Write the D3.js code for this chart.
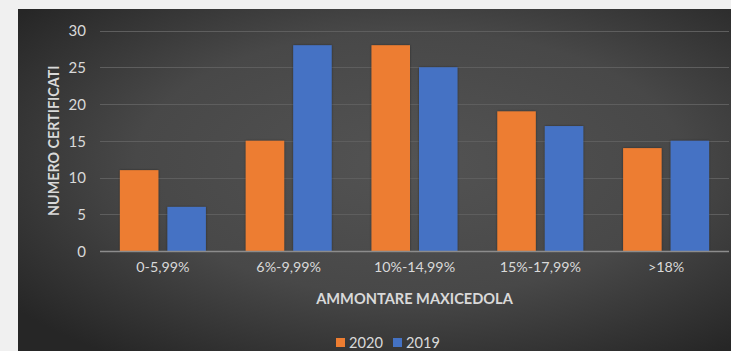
<!DOCTYPE html>
<html>
<head>
<meta charset="utf-8">
<script src="https://cdn.jsdelivr.net/npm/d3@7/dist/d3.min.js"></script>
<style>
  html, body { margin: 0; padding: 0; background: #f0f0f0; }
  svg { display: block; }
  text { font-family: Lato, "Open Sans", sans-serif; }
</style>
</head>
<body>
<svg id="chart" width="731" height="351"></svg>
<script>
// Certificates by maxicedola amount range, 2020 vs 2019
const categories = ["0-5,99%", "6%-9,99%", "10%-14,99%", "15%-17,99%", ">18%"];
const seriesNames = ["2020", "2019"];
const values2020 = [11, 15, 28, 19, 14];
const values2019 = [6, 28, 25, 17, 15];
const yTicks = [0, 5, 10, 15, 20, 25, 30];
const colors = ["#ED7D31", "#4472C4"];

const svg = d3.select("#chart");
const W = 731, H = 351;

// Dark radial backdrop
const defs = svg.append("defs");
const grad = defs.append("radialGradient").attr("id", "bg")
  .attr("cx", "55%").attr("cy", "45%").attr("r", "70%");
grad.append("stop").attr("offset", "0%").attr("stop-color", "#535353");
grad.append("stop").attr("offset", "55%").attr("stop-color", "#484848");
grad.append("stop").attr("offset", "100%").attr("stop-color", "#262626");

const shadow = defs.append("filter").attr("id", "sh")
  .attr("x", "-20%").attr("y", "-20%").attr("width", "140%").attr("height", "140%");
shadow.append("feDropShadow").attr("dx", 0).attr("dy", 0)
  .attr("stdDeviation", 1.2).attr("flood-color", "#000").attr("flood-opacity", 0.45);

svg.append("rect").attr("x", 18).attr("y", 9).attr("width", W - 18).attr("height", H - 9)
  .attr("fill", "url(#bg)");

const plot = { left: 100, right: 729, top: 30.5, bottom: 251 };

const x0 = d3.scaleBand().domain(categories).range([plot.left, plot.right]);
const y = d3.scaleLinear().domain([0, 30]).range([plot.bottom, plot.top]);

const barW = 38.5, innerGap = 9;
const x1 = d3.scaleOrdinal().domain(seriesNames)
  .range([-(barW + innerGap / 2), innerGap / 2]);

// Gridlines
svg.append("g")
  .selectAll("line").data(yTicks.filter(d => d > 0)).join("line")
  .attr("x1", plot.left).attr("x2", plot.right)
  .attr("y1", d => Math.round(y(d)) + 0.5).attr("y2", d => Math.round(y(d)) + 0.5)
  .attr("stroke", "#5e5e5e").attr("stroke-width", 1);

// Y tick labels
const yAxis = d3.axisLeft(y).tickValues(yTicks).tickSize(0).tickPadding(0);
const gy = svg.append("g").attr("transform", `translate(86,0)`).call(yAxis);
gy.select(".domain").remove();
gy.selectAll("text").attr("fill", "#d9d9d9").attr("font-size", 15).attr("dy", "0.35em");

// Bars
const rows = categories.map((c, i) => ({ cat: c, vals: [values2020[i], values2019[i]] }));
const groups = svg.append("g").selectAll("g").data(rows).join("g")
  .attr("transform", d => `translate(${x0(d.cat) + x0.bandwidth() / 2},0)`);
groups.selectAll("rect").data(d => d.vals.map((v, k) => ({ s: seriesNames[k], v, k })))
  .join("rect")
  .attr("x", d => x1(d.s)).attr("width", barW)
  .attr("y", d => y(d.v)).attr("height", d => y(0) - y(d.v))
  .attr("fill", d => colors[d.k])
  .attr("filter", "url(#sh)");

// Baseline
svg.append("line").attr("x1", plot.left).attr("x2", plot.right)
  .attr("y1", y(0) + 0.5).attr("y2", y(0) + 0.5)
  .attr("stroke", "#8c8c8c").attr("stroke-width", 1.5);

// X category labels
const xAxis = d3.axisBottom(x0).tickSize(0).tickPadding(0);
const gx = svg.append("g").attr("transform", `translate(0,${y(0) + 16})`).call(xAxis);
gx.select(".domain").remove();
gx.selectAll("text").attr("fill", "#d9d9d9").attr("font-size", 14.3).attr("dy", "0.35em");

// Axis titles
svg.append("text").attr("x", (plot.left + plot.right) / 2).attr("y", 304)
  .attr("text-anchor", "middle").attr("fill", "#d9d9d9")
  .attr("font-size", 14.6).attr("font-weight", "bold").text("AMMONTARE MAXICEDOLA");

svg.append("text")
  .attr("transform", `translate(58.5,${(plot.top + plot.bottom) / 2}) rotate(-90)`)
  .attr("text-anchor", "middle").attr("fill", "#d9d9d9")
  .attr("font-size", 14.3).attr("font-weight", "bold").text("NUMERO CERTIFICATI");

// Legend
const legendItems = [{ name: "2020", x: 336 }, { name: "2019", x: 393 }];
const lg = svg.append("g").selectAll("g").data(legendItems).join("g")
  .attr("transform", d => `translate(${d.x},338)`);
lg.append("rect").attr("width", 9).attr("height", 9)
  .attr("fill", (d, i) => colors[i]);
lg.append("text").attr("x", 13).attr("y", 9.5)
  .attr("fill", "#d9d9d9").attr("font-size", 14.6).text(d => d.name);
</script>
</body>
</html>
